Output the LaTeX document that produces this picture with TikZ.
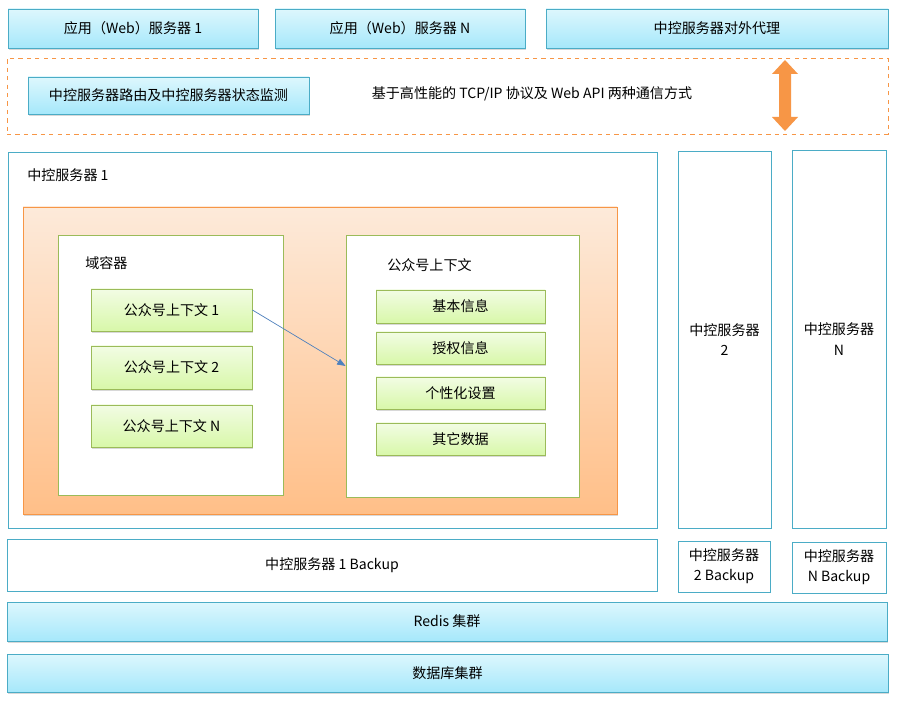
\documentclass[tikz,border=0pt]{standalone}
\usepackage{fontspec}
\setmainfont{Noto Sans CJK SC}
\usetikzlibrary{shadows,arrows.meta}

\definecolor{boxline}{HTML}{4BACC6}
\definecolor{bluetop}{HTML}{DDF7FD}
\definecolor{bluebot}{HTML}{A6E8FB}
\definecolor{greenline}{HTML}{9BBB59}
\definecolor{greentop}{HTML}{F2FCE4}
\definecolor{greenbot}{HTML}{D8F8A9}
\definecolor{orangeline}{HTML}{F79646}
\definecolor{orangetop}{HTML}{FDEADA}
\definecolor{orangebot}{HTML}{FFBF88}
\definecolor{linkblue}{HTML}{4F81BD}

\tikzset{
  every node/.style={font=\fontsize{10}{14.5}\selectfont, inner sep=0pt},
  % box spanning from (x1,y1) to (x2,y2), in pixels
  span/.style n args={4}{at={({(#1+#3)/2},{(#2+#4)/2})},
      minimum width={(#3-#1)*0.025cm}, minimum height={(#4-#2)*0.025cm}},
  twolines/.style={align=center},
  softshadow/.style={drop shadow={shadow xshift=0.6pt, shadow yshift=-1.6pt, opacity=0.3}},
  bluebox/.style={draw=boxline, line width=0.6pt, top color=bluetop, bottom color=bluebot, softshadow},
  greenbox/.style={draw=greenline, line width=0.6pt, top color=greentop, bottom color=greenbot, softshadow},
  outbox/.style={draw=boxline, line width=0.6pt, fill=white},
  holder/.style={draw=greenline, line width=0.6pt, fill=white},
}

\begin{document}
\begin{tikzpicture}[x=0.025cm, y=-0.025cm]
    \useasboundingbox[fill=white] (0,0) rectangle (901,707);

    % application servers and proxy
    \node[bluebox, span={8}{9}{258}{48}] (web1) {应用（Web）服务器 1};
    \node[bluebox, span={275}{9}{525}{48}] (webn) {应用（Web）服务器 N};
    \node[bluebox, span={546}{9}{888}{48}] (proxy) {中控服务器对外代理};

    % communication layer
    \node[draw=orangeline, dashed, line width=0.6pt, span={7}{58}{888}{134}] (comm) {};
    \node[bluebox, span={28}{77}{309}{114}] (router) {中控服务器路由及中控服务器状态监测};
    \node (protocol) at (532,94) {基于高性能的 TCP/IP 协议及 Web API 两种通信方式};
    \fill[orangeline] (785,60) -- (798,74) -- (791,74) -- (791,117) -- (798,117) -- (785,131)
        -- (772,117) -- (779,117) -- (779,74) -- (772,74) -- cycle;

    % server 1
    \node[outbox, span={8}{152}{657}{528}] (srv1) {};
    \node[anchor=west] (srv1label) at (27,175) {中控服务器 1};
    \node[draw=orangeline, line width=0.6pt, top color=orangetop, bottom color=orangebot, softshadow,
          span={23}{207}{617}{514}] (core) {};

    \node[holder, span={58}{235}{283}{495}] (domain) {};
    \node[anchor=west] (domainlabel) at (85,263) {域容器};
    \node[greenbox, span={91}{289}{252}{331}] (ctx1) {公众号上下文 1};
    \node[greenbox, span={91}{346}{252}{389}] (ctx2) {公众号上下文 2};
    \node[greenbox, span={91}{405}{252}{447}] (ctxn) {公众号上下文 N};

    \node[holder, span={346}{235}{579}{497}] (ctx) {};
    \node[anchor=west] (ctxlabel) at (387,265) {公众号上下文};
    \node[greenbox, span={376}{290}{545}{323}] (basic) {基本信息};
    \node[greenbox, span={376}{332}{545}{364}] (auth) {授权信息};
    \node[greenbox, span={376}{377}{545}{409}] (custom) {个性化设置};
    \node[greenbox, span={376}{423}{545}{455}] (other) {其它数据};

    \draw[linkblue, line width=0.5pt, -{Triangle[length=6pt, width=4.5pt]}] (ctx1.east) -- (ctx.west);

    % other servers
    \node[outbox, twolines, span={678}{151}{771}{528}] (srv2) {中控服务器\\2};
    \node[outbox, twolines, span={792}{150}{886}{528}] (srvn) {中控服务器\\N};

    % backups
    \node[outbox, span={7}{539}{657}{591}] (bak1) {中控服务器 1 Backup};
    \node[outbox, twolines, span={678}{541}{770}{592}] (bak2) {中控服务器\\2 Backup};
    \node[outbox, twolines, span={792}{542}{886}{593}] (bakn) {中控服务器\\N Backup};

    % storage
    \node[bluebox, span={7}{602}{887}{641}] (redis) {Redis 集群};
    \node[bluebox, span={7}{654}{888}{692}] (db) {数据库集群};
\end{tikzpicture}
\end{document}
